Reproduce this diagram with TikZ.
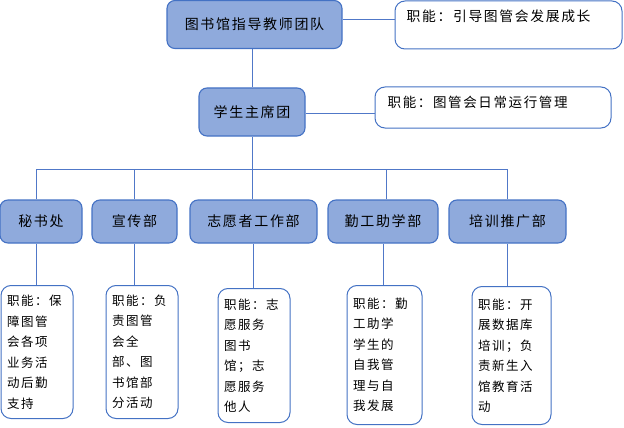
\documentclass[tikz,border=0pt]{standalone}
\usepackage{fontspec}
\usepackage{xcolor}
\usepackage{tikz}
\newfontfamily\cjk[LetterSpace=12]{Noto Sans CJK SC}
\definecolor{boxfill}{RGB}{143, 170, 220}
\definecolor{boxline}{RGB}{68, 114, 196}
\definecolor{linkblue}{RGB}{80, 120, 200}

\begin{document}
\begin{tikzpicture}[x=1pt, y=-1pt, font=\cjk\fontsize{14}{16}\selectfont,
   org/.style={draw=boxline, line width=1.1pt, fill=boxfill, rounded corners=8pt, minimum height=43pt, inner sep=2pt},
   duty/.style={draw=boxline, line width=1pt, fill=white, rounded corners=10pt, anchor=north, align=left,
     font=\cjk\fontsize{12.5}{20.5}\selectfont, inner xsep=6pt, inner ysep=4pt},
   link/.style={draw=linkblue, line width=1pt}]
  \useasboundingbox (0,0) rectangle (624,428);
  % top levels
  \node[org, minimum width=175pt, minimum height=48pt] (team) at (254.5,24.5) {图书馆指导教师团队};
  \node[org, minimum width=106pt, minimum height=48pt] (chair) at (252,112) {学生主席团};
  \node[duty, anchor=center, minimum width=227pt, minimum height=48pt] (tdesc) at (508.5,25) {};
  \node[anchor=north west, inner sep=0pt, font=\cjk\fontsize{13.8}{15}\selectfont] (tdesctxt) at ([shift={(12,9)}]tdesc.north west) {职能：引导图管会发展成长};
  \node[duty, anchor=center, minimum width=236pt, minimum height=41pt] (cdesc) at (493,107.5) {};
  \node[anchor=north west, inner sep=0pt, font=\cjk\fontsize{13.5}{15}\selectfont] (cdesctxt) at ([shift={(13,9)}]cdesc.north west) {职能：图管会日常运行管理};
  \draw[link] (team.east |- 0,20) -- (tdesc.west |- 0,20);
  \draw[link] (chair.east |- 0,113) -- (cdesc.west |- 0,113);
  \draw[link] (team.south -| 252,0) -- (chair.north);
  % departments
  \node[org, minimum width=82pt] (secr) at (41,221.5) {秘书处};
  \node[org, minimum width=85pt] (publ) at (134.5,221.5) {宣传部};
  \node[org, minimum width=127pt] (volu) at (253.5,221.5) {志愿者工作部};
  \node[org, minimum width=110pt] (work) at (383,221.5) {勤工助学部};
  \node[org, minimum width=117pt] (trai) at (507.5,221.5) {培训推广部};
  \draw[link] (chair.south) -- ++(0,33) coordinate (bus);
  \draw[link] ([xshift=-5pt]secr.north) |- (bus); \draw[link] (publ.north) |- (bus);
  \draw[link] ([xshift=-1.5pt]volu.north) |- (bus); \draw[link] ([xshift=3pt]work.north) |- (bus);
  \draw[link] (trai.north) |- (bus);
  % duties
  \node[duty, minimum width=72pt, minimum height=133pt, text width=60pt] (secrd) at (37,285) {职能：保\\障图管\\会各项\\业务活\\动后勤\\支持};
  \node[duty, minimum width=72pt, minimum height=133pt, text width=60pt] (publd) at (142,285) {职能：负\\责图管\\会全\\部、图\\书馆部\\分活动};
  \node[duty, minimum width=72pt, minimum height=134pt, text width=60pt] (volud) at (254,288) {职能：志\\愿服务\\图书\\馆；志\\愿服务\\他人};
  \node[duty, minimum width=75pt, minimum height=139pt, text width=63pt] (workd) at (384.5,285) {职能：勤\\工助学\\学生的\\自我管\\理与自\\我发展};
  \node[duty, minimum width=79pt, minimum height=138pt, text width=67pt] (traid) at (511.5,286) {职能：开\\展数据库\\培训；负\\责新生入\\馆教育活\\动};
  \draw[link] ([xshift=-5pt]secr.south) -- ([xshift=-5pt]secr.south |- secrd.north);
  \foreach \d in {publ, volu, work, trai}
    \draw[link] (\d.south) -- (\d.south |- \d d.north);
\end{tikzpicture}
\end{document}
